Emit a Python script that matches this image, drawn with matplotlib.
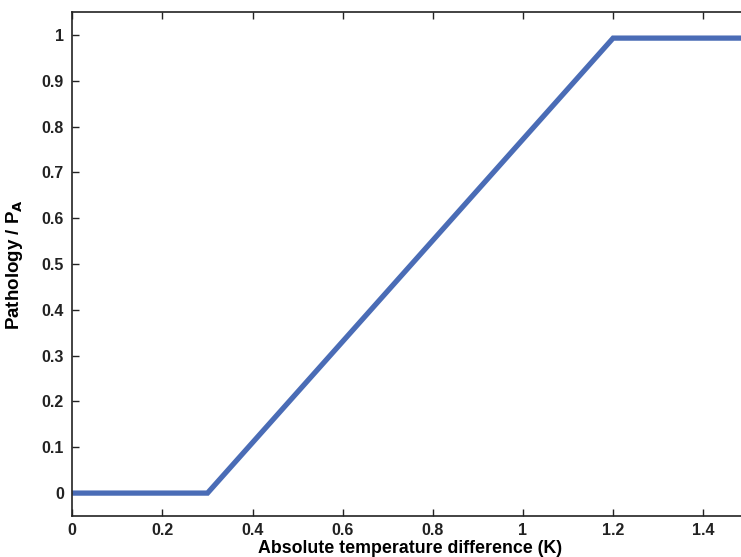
import matplotlib
matplotlib.use("Agg")
import matplotlib.pyplot as plt

# piecewise-linear pathology curve
temp_diff = [0.0, 0.3, 1.2, 1.5]
pathology = [0.0, 0.0, 0.993, 0.993]

xticks = [0, 0.2, 0.4, 0.6, 0.8, 1.0, 1.2, 1.4]
xtick_labels = ["0", "0.2", "0.4", "0.6", "0.8", "1", "1.2", "1.4"]
yticks = [0, 0.1, 0.2, 0.3, 0.4, 0.5, 0.6, 0.7, 0.8, 0.9, 1.0]
ytick_labels = ["0", "0.1", "0.2", "0.3", "0.4", "0.5", "0.6", "0.7", "0.8", "0.9", "1"]

plt.rcParams["font.family"] = ["Liberation Sans", "DejaVu Sans"]

fig = plt.figure(figsize=(7.41, 5.57), dpi=100)
# axes runs slightly past the right edge, as in the scan
ax = fig.add_axes([72.3 / 741, 41 / 557, 676 / 741, 504 / 557])

ax.plot(temp_diff, pathology, color="#4a6cb6", lw=3.8, solid_capstyle="butt",
        solid_joinstyle="miter")

ax.set_xlim(0, 1.5)
ax.set_ylim(-0.05, 1.05)
ax.set_xticks(xticks)
ax.set_xticklabels(xtick_labels)
ax.set_yticks(yticks)
ax.set_yticklabels(ytick_labels)
ax.tick_params(direction="in", length=5, width=1, top=True, right=False,
               labelsize=11.5, colors="#222222")
ax.tick_params(axis="x", pad=5)
ax.tick_params(axis="y", pad=6)
for lab in ax.get_xticklabels() + ax.get_yticklabels():
    lab.set_fontweight("bold")
for s in ax.spines.values():
    s.set_linewidth(1.2)
    s.set_color("#222222")

ax.set_xlabel("Absolute temperature difference (K)", fontsize=12.8,
              fontweight="bold")
ax.set_ylabel("Pathology / P$_\\mathbf{A}$", fontsize=13.5, fontweight="bold")
ax.xaxis.set_label_coords(0.5, -0.047)
ax.yaxis.set_label_coords(-0.07, 0.5)

fig.savefig("out.png", dpi=100)
